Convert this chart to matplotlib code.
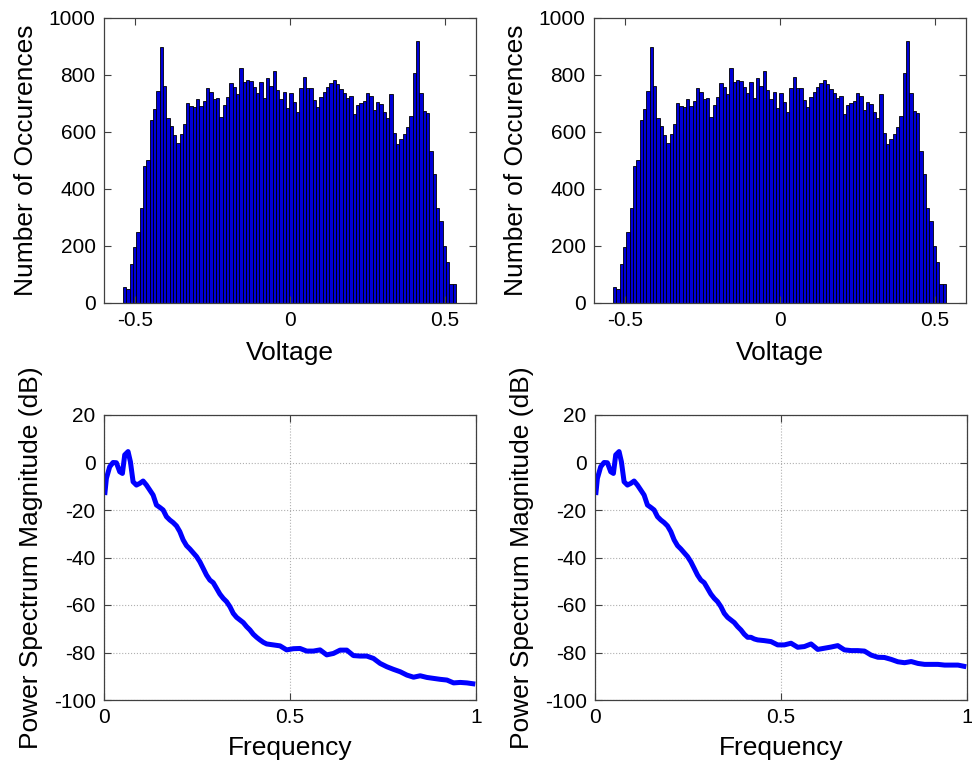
import matplotlib
matplotlib.use("Agg")
import matplotlib.pyplot as plt
import numpy as np

plt.rcParams['font.family'] = ['Liberation Sans', 'DejaVu Sans']
plt.rcParams['axes.unicode_minus'] = False

# histogram of voltage samples (100 bins), same in both panels
v_lo, v_hi = -0.539, 0.535
hist_counts = [
    55, 50, 137, 195, 250, 334, 481, 502, 642, 681,
    744, 897, 761, 648, 621, 589, 563, 592, 627, 703,
    692, 687, 715, 691, 710, 753, 742, 715, 718, 654,
    695, 724, 771, 759, 732, 823, 777, 782, 780, 759,
    738, 774, 718, 791, 762, 815, 747, 716, 742, 683,
    736, 706, 671, 753, 794, 753, 753, 712, 687, 724,
    742, 757, 771, 782, 768, 750, 738, 718, 728, 663,
    695, 701, 709, 736, 726, 677, 704, 698, 671, 650,
    733, 598, 557, 575, 593, 619, 656, 808, 919, 736,
    674, 668, 533, 453, 332, 289, 200, 145, 67, 67,
]

# power spectrum (normalised frequency, dB)
freq = [
    0.0019, 0.0064, 0.0153, 0.0243, 0.0333, 0.0423, 0.0495, 0.0557, 0.0647, 0.0710,
    0.0782, 0.0872, 0.0961, 0.1051, 0.1141, 0.1231, 0.1320, 0.1410, 0.1500, 0.1590,
    0.1679, 0.1769, 0.1859, 0.1949, 0.2038, 0.2128, 0.2218, 0.2308, 0.2397, 0.2487,
    0.2577, 0.2667, 0.2756, 0.2846, 0.2936, 0.3026, 0.3115, 0.3205, 0.3295, 0.3385,
    0.3474, 0.3564, 0.3654, 0.3744, 0.3833, 0.3923, 0.4013, 0.4103, 0.4192, 0.4282,
    0.4372, 0.4551, 0.4731, 0.4910, 0.5090, 0.5269, 0.5449, 0.5628, 0.5808, 0.5987,
    0.6167, 0.6346, 0.6526, 0.6705, 0.6885, 0.7064, 0.7244, 0.7423, 0.7603, 0.7782,
    0.7962, 0.8141, 0.8321, 0.8500, 0.8680, 0.8859, 0.9039, 0.9218, 0.9398, 0.9577,
    0.9757, 0.9981,
]
psd_left = [
    -13.7, -6.7, -1.8, 0.0, -0.1, -3.9, -4.6, 3.2, 4.6, 0.3,
    -8.1, -9.5, -8.8, -7.8, -9.5, -11.6, -13.7, -17.9, -18.9, -20.0,
    -22.8, -24.2, -25.3, -26.7, -29.1, -32.6, -35.0, -36.4, -38.0, -39.6,
    -41.8, -44.6, -47.4, -49.5, -50.6, -53.0, -55.4, -57.2, -58.6, -60.7,
    -63.5, -65.2, -66.3, -67.4, -69.1, -70.5, -72.3, -73.6, -74.7, -75.7,
    -76.4, -76.8, -77.2, -78.9, -78.4, -78.3, -79.4, -79.4, -78.9, -81.0,
    -80.4, -79.0, -79.0, -81.3, -81.5, -81.5, -82.5, -84.6, -86.0, -87.1,
    -88.1, -89.5, -90.4, -89.8, -90.5, -90.9, -91.3, -91.6, -92.8, -92.6,
    -92.8, -93.3,
]
psd_right = [
    -13.7, -6.7, -1.8, 0.0, -0.1, -3.9, -4.6, 3.2, 4.6, 0.3,
    -8.1, -9.5, -8.8, -7.8, -9.5, -11.6, -13.7, -17.9, -18.9, -20.0,
    -22.8, -24.2, -25.3, -26.7, -29.1, -32.6, -35.0, -36.4, -38.0, -39.6,
    -41.8, -44.6, -47.4, -49.5, -50.6, -53.0, -55.4, -57.2, -58.6, -60.7,
    -63.5, -65.2, -66.3, -67.4, -69.1, -70.5, -72.3, -73.6, -73.6, -74.3,
    -74.7, -75.0, -75.4, -76.8, -76.8, -76.1, -77.8, -77.5, -76.4, -78.7,
    -78.2, -77.7, -77.1, -78.9, -79.2, -79.2, -79.4, -81.1, -82.0, -82.1,
    -82.9, -83.9, -84.3, -83.8, -84.6, -85.0, -85.0, -85.0, -85.3, -85.3,
    -85.3, -86.0,
]

W, H = 972, 765
fig = plt.figure(figsize=(W / 100, H / 100), dpi=100)

def box(x0, x1, y0, y1):
    return [x0 / W, 1 - y1 / H, (x1 - x0) / W, (y1 - y0) / H]

tick_fs = 15
label_fs = 19
spine_c = '#404040'

def style(ax):
    for s in ax.spines.values():
        s.set_color(spine_c)
        s.set_linewidth(0.9)
    ax.tick_params(direction='in', top=True, right=True, length=5,
                   width=0.8, color=spine_c, labelsize=tick_fs, pad=6)

n = len(hist_counts)
bw = (v_hi - v_lo) / n
centers = v_lo + bw * (np.arange(n) + 0.5)

for pos in [(104, 476), (594, 966)]:
    ax = fig.add_axes(box(pos[0], pos[1], 18, 303))
    ax.bar(centers, hist_counts, width=bw, color='#0000d8',
           edgecolor='black', linewidth=0.6)
    ax.set_xlim(-0.6, 0.6)
    ax.set_ylim(0, 1000)
    ax.set_xticks([-0.5, 0, 0.5])
    ax.set_xticklabels(['-0.5', '0', '0.5'])
    ax.set_yticks(range(0, 1001, 200))
    ax.set_xlabel('Voltage', fontsize=label_fs, labelpad=8)
    ax.set_ylabel('Number of Occurences', fontsize=label_fs, labelpad=8)
    style(ax)

for pos, psd in [((104, 476), psd_left), ((595, 967), psd_right)]:
    ax = fig.add_axes(box(pos[0], pos[1], 415, 700))
    ax.plot(freq, psd, color='#0000ff', linewidth=3.6, solid_capstyle='butt')
    ax.set_xlim(0, 1)
    ax.set_ylim(-100, 20)
    ax.set_xticks([0, 0.5, 1])
    ax.set_xticklabels(['0', '0.5', '1'])
    ax.set_yticks(range(-100, 21, 20))
    ax.grid(True, linestyle=':', color='#b0b0b0', linewidth=0.8)
    ax.set_xlabel('Frequency', fontsize=label_fs, labelpad=6)
    ax.set_ylabel('Power Spectrum Magnitude (dB)', fontsize=label_fs, labelpad=8)
    style(ax)

fig.savefig('out.png', dpi=100)
